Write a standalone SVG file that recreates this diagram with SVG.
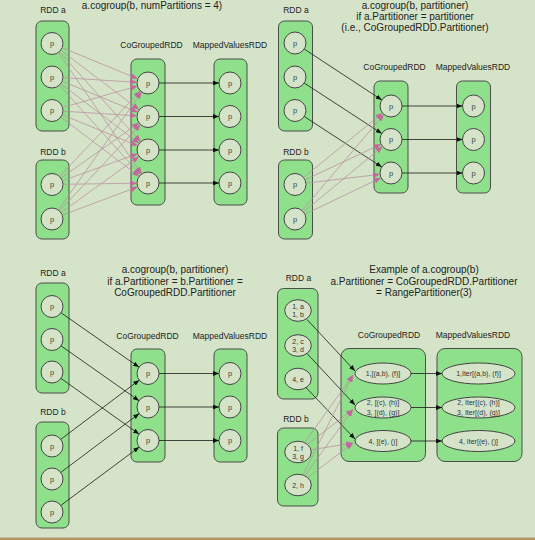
<svg xmlns="http://www.w3.org/2000/svg" width="535" height="540" viewBox="0 0 535 540">
<style>
.box{fill:#8ee08a;stroke:#4d4d4d;stroke-width:1}
.pt{fill:#d5e4c9;stroke:#444;stroke-width:1}
text{font-family:"Liberation Sans",Arial,sans-serif;fill:#222;text-anchor:middle}
.ti{font-size:10px}
.lb{font-size:8.5px}
.p{font-size:7.5px;fill:#444}
.e{font-size:7px;fill:#333}
.bl{stroke:#1a1a1a;stroke-width:0.8;fill:none;marker-end:url(#ab)}
.pk{stroke:#b8949f;stroke-width:0.8;fill:none;marker-end:url(#ap)}
</style>
<defs>
<marker id="ab" viewBox="0 0 10 8" refX="10" refY="4" markerWidth="6" markerHeight="4.8" markerUnits="userSpaceOnUse" orient="auto"><path d="M0,0 L10,4 L0,8 z" fill="#111"/></marker>
<marker id="ap" viewBox="0 0 10 8" refX="10" refY="4" markerWidth="7" markerHeight="5.6" markerUnits="userSpaceOnUse" orient="auto"><path d="M0,0 L10,4 L0,8 z" fill="#c4679f"/></marker>
</defs>
<rect x="0" y="0" width="535" height="540" fill="#d5e4c9"/>
<rect x="0" y="537.5" width="535" height="2.5" fill="#b59467"/>

<!-- Panel 1 -->
<text class="ti" x="152" y="9">a.cogroup(b, numPartitions = 4)</text>
<g id="p1-rdda">
<text class="lb" x="53" y="13.3">RDD a</text>
<rect class="box" x="36" y="21" width="33" height="110" rx="6"/>
<g id="p1-a1"><circle class="pt" cx="52" cy="43.5" r="11"/><text class="p" x="52" y="46">p</text></g>
<g id="p1-a2"><circle class="pt" cx="52" cy="77" r="11"/><text class="p" x="52" y="79.5">p</text></g>
<g id="p1-a3"><circle class="pt" cx="52" cy="110.5" r="11"/><text class="p" x="52" y="113">p</text></g>
</g>
<g id="p1-rddb">
<text class="lb" x="53" y="155">RDD b</text>
<rect class="box" x="36" y="160" width="33" height="79" rx="6"/>
<g id="p1-b1"><circle class="pt" cx="52" cy="184.5" r="11"/><text class="p" x="52" y="187">p</text></g>
<g id="p1-b2"><circle class="pt" cx="52" cy="219" r="11"/><text class="p" x="52" y="221.5">p</text></g>
</g>
<g id="p1-co">
<text class="lb" x="151.5" y="47.5">CoGroupedRDD</text>
<rect class="box" x="131" y="59" width="34" height="146" rx="6"/>
<g id="p1-c1"><circle class="pt" cx="148" cy="83" r="11"/><text class="p" x="148" y="85.5">p</text></g>
<g id="p1-c2"><circle class="pt" cx="148" cy="116.5" r="11"/><text class="p" x="148" y="119">p</text></g>
<g id="p1-c3"><circle class="pt" cx="148" cy="150" r="11"/><text class="p" x="148" y="152.5">p</text></g>
<g id="p1-c4"><circle class="pt" cx="148" cy="183" r="11"/><text class="p" x="148" y="185.5">p</text></g>
</g>
<g id="p1-mv">
<text class="lb" x="230" y="47.5">MappedValuesRDD</text>
<rect class="box" x="214" y="59" width="33" height="146" rx="6"/>
<g id="p1-m1"><circle class="pt" cx="230" cy="83" r="11"/><text class="p" x="230" y="85.5">p</text></g>
<g id="p1-m2"><circle class="pt" cx="230" cy="116.5" r="11"/><text class="p" x="230" y="119">p</text></g>
<g id="p1-m3"><circle class="pt" cx="230" cy="150" r="11"/><text class="p" x="230" y="152.5">p</text></g>
<g id="p1-m4"><circle class="pt" cx="230" cy="183" r="11"/><text class="p" x="230" y="185.5">p</text></g>
</g>

<!-- Panel 2 -->
<text class="ti" x="415" y="8.5">a.cogroup(b, partitioner)</text>
<text class="ti" x="415" y="19.5">if a.Partitioner = partitioner</text>
<text class="ti" x="415" y="30.5">(i.e., CoGroupedRDD.Partitioner)</text>
<g id="p2-rdda">
<text class="lb" x="296" y="13.3">RDD a</text>
<rect class="box" x="278.5" y="21" width="34" height="110" rx="6"/>
<g id="p2-a1"><circle class="pt" cx="295" cy="43" r="11"/><text class="p" x="295" y="45.5">p</text></g>
<g id="p2-a2"><circle class="pt" cx="295" cy="77" r="11"/><text class="p" x="295" y="79.5">p</text></g>
<g id="p2-a3"><circle class="pt" cx="295" cy="110.5" r="11"/><text class="p" x="295" y="113">p</text></g>
</g>
<g id="p2-rddb">
<text class="lb" x="296" y="155">RDD b</text>
<rect class="box" x="278.5" y="160" width="34" height="79" rx="6"/>
<g id="p2-b1"><circle class="pt" cx="295" cy="184.5" r="11"/><text class="p" x="295" y="187">p</text></g>
<g id="p2-b2"><circle class="pt" cx="295" cy="219" r="11"/><text class="p" x="295" y="221.5">p</text></g>
</g>
<g id="p2-co">
<text class="lb" x="394.5" y="70">CoGroupedRDD</text>
<rect class="box" x="374" y="81" width="34" height="112" rx="6"/>
<g id="p2-c1"><circle class="pt" cx="391" cy="106" r="11"/><text class="p" x="391" y="108.5">p</text></g>
<g id="p2-c2"><circle class="pt" cx="391" cy="139.5" r="11"/><text class="p" x="391" y="142">p</text></g>
<g id="p2-c3"><circle class="pt" cx="391" cy="173" r="11"/><text class="p" x="391" y="175.5">p</text></g>
</g>
<g id="p2-mv">
<text class="lb" x="473" y="70">MappedValuesRDD</text>
<rect class="box" x="456.5" y="81" width="34" height="112" rx="6"/>
<g id="p2-m1"><circle class="pt" cx="473.5" cy="106" r="11"/><text class="p" x="473.5" y="108.5">p</text></g>
<g id="p2-m2"><circle class="pt" cx="473.5" cy="139.5" r="11"/><text class="p" x="473.5" y="142">p</text></g>
<g id="p2-m3"><circle class="pt" cx="473.5" cy="173" r="11"/><text class="p" x="473.5" y="175.5">p</text></g>
</g>

<!-- Panel 3 -->
<text class="ti" x="175" y="273">a.cogroup(b, partitioner)</text>
<text class="ti" x="175" y="284.5">if a.Partitioner = b.Partitioner =</text>
<text class="ti" x="175" y="296">CoGroupedRDD.Partitioner</text>
<g id="p3-rdda">
<text class="lb" x="53" y="276.3">RDD a</text>
<rect class="box" x="36" y="283" width="33" height="110" rx="6"/>
<g id="p3-a1"><circle class="pt" cx="52" cy="306.5" r="11"/><text class="p" x="52" y="309">p</text></g>
<g id="p3-a2"><circle class="pt" cx="52" cy="339.5" r="11"/><text class="p" x="52" y="342">p</text></g>
<g id="p3-a3"><circle class="pt" cx="52" cy="372" r="11"/><text class="p" x="52" y="374.5">p</text></g>
</g>
<g id="p3-rddb">
<text class="lb" x="53" y="415.3">RDD b</text>
<rect class="box" x="36" y="422" width="33" height="106" rx="6"/>
<g id="p3-b1"><circle class="pt" cx="52" cy="446" r="11"/><text class="p" x="52" y="448.5">p</text></g>
<g id="p3-b2"><circle class="pt" cx="52" cy="479" r="11"/><text class="p" x="52" y="481.5">p</text></g>
<g id="p3-b3"><circle class="pt" cx="52" cy="512" r="11"/><text class="p" x="52" y="514.5">p</text></g>
</g>
<g id="p3-co">
<text class="lb" x="147.5" y="339">CoGroupedRDD</text>
<rect class="box" x="131" y="349" width="34" height="113" rx="6"/>
<g id="p3-c1"><circle class="pt" cx="148" cy="373.5" r="11"/><text class="p" x="148" y="376">p</text></g>
<g id="p3-c2"><circle class="pt" cx="148" cy="407" r="11"/><text class="p" x="148" y="409.5">p</text></g>
<g id="p3-c3"><circle class="pt" cx="148" cy="440.5" r="11"/><text class="p" x="148" y="443">p</text></g>
</g>
<g id="p3-mv">
<text class="lb" x="230" y="339">MappedValuesRDD</text>
<rect class="box" x="214" y="349" width="33" height="113" rx="6"/>
<g id="p3-m1"><circle class="pt" cx="230" cy="373.5" r="11"/><text class="p" x="230" y="376">p</text></g>
<g id="p3-m2"><circle class="pt" cx="230" cy="407" r="11"/><text class="p" x="230" y="409.5">p</text></g>
<g id="p3-m3"><circle class="pt" cx="230" cy="440.5" r="11"/><text class="p" x="230" y="443">p</text></g>
</g>

<!-- Panel 4 -->
<text class="ti" x="424" y="273">Example of a.cogroup(b)</text>
<text class="ti" x="424" y="284.5">a.Partitioner = CoGroupedRDD.Partitioner</text>
<text class="ti" x="424" y="296">= RangePartitioner(3)</text>
<g id="p4-rdda">
<text class="lb" x="298.5" y="281.3">RDD a</text>
<rect class="box" x="277.5" y="288.5" width="40.5" height="110.5" rx="6"/>
<g id="p4-a1"><ellipse class="pt" cx="298" cy="310.5" rx="13.3" ry="10.8"/><text class="e" x="298" y="309">1, a</text><text class="e" x="298" y="317.3">1, b</text></g>
<g id="p4-a2"><ellipse class="pt" cx="298" cy="345.5" rx="13.3" ry="10.8"/><text class="e" x="298" y="344">2, c</text><text class="e" x="298" y="352.3">3, d</text></g>
<g id="p4-a3"><ellipse class="pt" cx="298" cy="379" rx="13.3" ry="10.8"/><text class="e" x="298" y="381.5">4, e</text></g>
</g>
<g id="p4-rddb">
<text class="lb" x="296" y="422.3">RDD b</text>
<rect class="box" x="277.5" y="428" width="40.5" height="78" rx="6"/>
<g id="p4-b1"><ellipse class="pt" cx="298" cy="452" rx="13.3" ry="10.8"/><text class="e" x="298" y="450.5">1, f</text><text class="e" x="298" y="458.8">3, g</text></g>
<g id="p4-b2"><ellipse class="pt" cx="298" cy="485" rx="13.3" ry="10.8"/><text class="e" x="298" y="487.5">2, h</text></g>
</g>
<g id="p4-co">
<text class="lb" x="389" y="338">CoGroupedRDD</text>
<rect class="box" x="341" y="348.5" width="84.5" height="113" rx="8"/>
<g id="p4-c1"><ellipse class="pt" cx="383" cy="373.5" rx="28" ry="10.5"/><text class="e" x="383" y="376">1,[(a,b), (f)]</text></g>
<g id="p4-c2"><ellipse class="pt" cx="383" cy="407.5" rx="28" ry="10.5"/><text class="e" x="383" y="405.2">2, [(c), (h)]</text><text class="e" x="383" y="414.6">3, [(d), (g)]</text></g>
<g id="p4-c3"><ellipse class="pt" cx="383" cy="441" rx="28" ry="10.5"/><text class="e" x="383" y="443.5">4, [(e), ()]</text></g>
</g>
<g id="p4-mv">
<text class="lb" x="473" y="338">MappedValuesRDD</text>
<rect class="box" x="437" y="348.5" width="85" height="113" rx="8"/>
<g id="p4-m1"><ellipse class="pt" cx="478.5" cy="373.5" rx="36.5" ry="10.5"/><text class="e" x="478.5" y="376">1,Iter[(a,b), (f)]</text></g>
<g id="p4-m2"><ellipse class="pt" cx="478.5" cy="407.5" rx="36.5" ry="10.5"/><text class="e" x="478.5" y="405.2">2, Iter[(c), (h)]</text><text class="e" x="478.5" y="414.6">3, Iter[(d), (g)]</text></g>
<g id="p4-m3"><ellipse class="pt" cx="478.5" cy="441" rx="36.5" ry="10.5"/><text class="e" x="478.5" y="443.5">4, Iter[(e), ()]</text></g>
</g>

<g id="connectors">
<!-- panel 1 pink -->
<line class="pk" x1="62.17" y1="47.69" x2="137.83" y2="78.81"/>
<line class="pk" x1="60.76" y1="50.16" x2="139.24" y2="109.84"/>
<line class="pk" x1="59.36" y1="51.67" x2="140.64" y2="141.83"/>
<line class="pk" x1="58.24" y1="52.56" x2="141.76" y2="173.94"/>
<line class="pk" x1="62.98" y1="77.69" x2="137.02" y2="82.31"/>
<line class="pk" x1="62.17" y1="81.19" x2="137.83" y2="112.31"/>
<line class="pk" x1="60.76" y1="83.66" x2="139.24" y2="143.34"/>
<line class="pk" x1="59.38" y1="85.15" x2="140.62" y2="174.85"/>
<line class="pk" x1="62.57" y1="107.47" x2="137.43" y2="86.03"/>
<line class="pk" x1="62.98" y1="111.19" x2="137.02" y2="115.81"/>
<line class="pk" x1="62.17" y1="114.69" x2="137.83" y2="145.81"/>
<line class="pk" x1="60.78" y1="117.13" x2="139.22" y2="176.37"/>
<line class="pk" x1="59.56" y1="176.51" x2="140.44" y2="90.99"/>
<line class="pk" x1="60.98" y1="178.14" x2="139.02" y2="122.86"/>
<line class="pk" x1="62.35" y1="180.78" x2="137.65" y2="153.72"/>
<line class="pk" x1="63" y1="184.33" x2="137" y2="183.17"/>
<line class="pk" x1="58.34" y1="210.01" x2="141.66" y2="91.99"/>
<line class="pk" x1="59.52" y1="210.97" x2="140.48" y2="124.53"/>
<line class="pk" x1="60.93" y1="212.58" x2="139.07" y2="156.42"/>
<line class="pk" x1="62.3" y1="215.14" x2="137.7" y2="186.86"/>
<!-- panel 1 black -->
<line class="bl" x1="159" y1="83" x2="219" y2="83"/>
<line class="bl" x1="159" y1="116.5" x2="219" y2="116.5"/>
<line class="bl" x1="159" y1="150" x2="219" y2="150"/>
<line class="bl" x1="159" y1="183" x2="219" y2="183"/>
<!-- panel 2 -->
<line class="bl" x1="304.2" y1="49.03" x2="381.8" y2="99.97"/>
<line class="bl" x1="304.22" y1="83" x2="381.78" y2="133.5"/>
<line class="bl" x1="304.22" y1="116.5" x2="381.78" y2="167"/>
<line class="pk" x1="303.52" y1="177.54" x2="382.48" y2="112.96"/>
<line class="pk" x1="304.96" y1="179.83" x2="381.04" y2="144.17"/>
<line class="pk" x1="305.92" y1="183.19" x2="380.08" y2="174.31"/>
<line class="pk" x1="302.12" y1="210.62" x2="383.88" y2="114.38"/>
<line class="pk" x1="303.47" y1="211.98" x2="382.53" y2="146.52"/>
<line class="pk" x1="304.92" y1="214.25" x2="381.08" y2="177.75"/>
<line class="bl" x1="402" y1="106" x2="462.5" y2="106"/>
<line class="bl" x1="402" y1="139.5" x2="462.5" y2="139.5"/>
<line class="bl" x1="402" y1="173" x2="462.5" y2="173"/>
<!-- panel 3 -->
<line class="bl" x1="61.02" y1="312.8" x2="138.98" y2="367.2"/>
<line class="bl" x1="61" y1="345.83" x2="139" y2="400.67"/>
<line class="bl" x1="60.95" y1="378.39" x2="139.05" y2="434.11"/>
<line class="bl" x1="60.78" y1="439.37" x2="139.22" y2="380.13"/>
<line class="bl" x1="60.8" y1="472.4" x2="139.2" y2="413.6"/>
<line class="bl" x1="60.82" y1="505.43" x2="139.18" y2="447.07"/>
<line class="bl" x1="159" y1="373.5" x2="219" y2="373.5"/>
<line class="bl" x1="159" y1="407" x2="219" y2="407"/>
<line class="bl" x1="159" y1="440.5" x2="219" y2="440.5"/>
<!-- panel 4 -->
<line class="bl" x1="307" y1="319.5" x2="355" y2="371"/>
<line class="bl" x1="307" y1="353.5" x2="355" y2="405"/>
<line class="bl" x1="305.5" y1="387" x2="355" y2="439"/>
<line class="pk" x1="304.6" y1="442.6" x2="353" y2="375"/>
<line class="pk" x1="307.4" y1="444.4" x2="353" y2="409.5"/>
<line class="pk" x1="311" y1="449.9" x2="353" y2="443"/>
<line class="pk" x1="303" y1="475" x2="353" y2="375"/>
<line class="pk" x1="304.8" y1="475.7" x2="353" y2="409.5"/>
<line class="pk" x1="307.7" y1="477.6" x2="353" y2="443"/>
<line class="bl" x1="411" y1="373.5" x2="442" y2="373.5"/>
<line class="bl" x1="411" y1="407.5" x2="442" y2="407.5"/>
<line class="bl" x1="411" y1="441" x2="442" y2="441"/>
</g>
</svg>
